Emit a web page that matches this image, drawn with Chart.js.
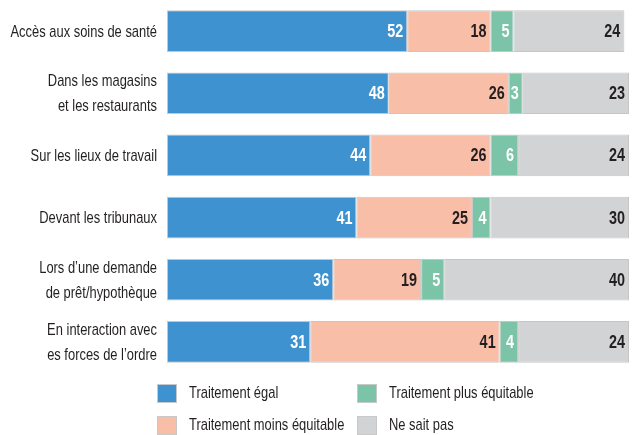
<!DOCTYPE html>
<html>
<head>
<meta charset="utf-8">
<script src="https://cdn.jsdelivr.net/npm/chart.js@4"></script>
<style>
  html, body { margin: 0; padding: 0; background: #fff; }
  #wrap { position: relative; width: 634px; height: 435px; }
  #chart { position: absolute; left: 0; top: 0; }
  .leg { position: absolute; font: 17px "Liberation Sans", Arial, sans-serif; color: #231f20; line-height: 20px; white-space: nowrap; }
  .leg span { position: absolute; left: 0; top: 0; width: 20px; height: 19px; border: 1px solid #c9c9c9; box-sizing: border-box; }
  .leg b { font-weight: normal; position: absolute; left: 32px; top: -1px; transform: scaleX(0.76); transform-origin: 0 0; }
</style>
</head>
<body>
<div id="wrap">
  <canvas id="chart" width="634" height="435"></canvas>
  <div id="legend"></div>
</div>
<script>
// Categories and values (percent)
const categories = [
  'Accès aux soins de santé',
  ['Dans les magasins', 'et les restaurants'],
  'Sur les lieux de travail',
  'Devant les tribunaux',
  ['Lors d\u2019une demande', 'de prêt/hypothèque'],
  ['En interaction avec', 'es forces de l\u2019ordre']
];
const seriesNames = ['Traitement égal', 'Traitement moins équitable', 'Traitement plus équitable', 'Ne sait pas'];
const egal = [52, 48, 44, 41, 36, 31];
const moins = [18, 26, 26, 25, 19, 41];
const plus = [5, 3, 6, 4, 5, 4];
const nsp = [24, 23, 24, 30, 40, 24];

const colors = ['#3d92cf', '#f8bea8', '#7cc4a8', '#d2d3d5'];
const labelColors = ['#ffffff', '#231f20', '#ffffff', '#231f20'];
const fontFamily = '"Liberation Sans", Arial, sans-serif';
const squeeze = 0.76; // condensed look

const values = [egal, moins, plus, nsp];

// Category labels, drawn condensed at the y scale tick positions
const categoryLabels = {
  id: 'categoryLabels',
  afterDraw(chart) {
    const ctx = chart.ctx;
    const y = chart.scales.y;
    ctx.save();
    ctx.font = '17px ' + fontFamily;
    ctx.fillStyle = '#231f20';
    ctx.textAlign = 'right';
    ctx.textBaseline = 'middle';
    ctx.scale(squeeze, 1);
    chart.data.labels.forEach((lab, i) => {
      const lines = Array.isArray(lab) ? lab : [lab];
      const cy = y.getPixelForTick(i);
      lines.forEach((line, k) => {
        const ly = cy + (k - (lines.length - 1) / 2) * 25;
        ctx.fillText(line, (y.right - 10) / squeeze, ly + 1);
      });
    });
    ctx.restore();
  }
};

// Bar value labels, right aligned inside each segment
const valueLabels = {
  id: 'valueLabels',
  afterDatasetsDraw(chart) {
    const ctx = chart.ctx;
    ctx.save();
    ctx.font = 'bold 18px ' + fontFamily;
    ctx.textAlign = 'right';
    ctx.textBaseline = 'middle';
    ctx.scale(0.8, 1);
    chart.data.datasets.forEach((ds, i) => {
      const meta = chart.getDatasetMeta(i);
      meta.data.forEach((bar, j) => {
        ctx.fillStyle = labelColors[i];
        ctx.fillText(ds.data[j], (bar.x - 4) / 0.8, bar.y + 1);
      });
    });
    ctx.restore();
  }
};

new Chart(document.getElementById('chart'), {
  type: 'bar',
  data: {
    labels: categories,
    datasets: seriesNames.map((name, i) => ({
      label: name,
      data: values[i],
      backgroundColor: colors[i],
      borderColor: '#c6c6c6',
      borderWidth: 1,
      borderSkipped: false,
      barPercentage: 0.67,
      categoryPercentage: 1
    }))
  },
  options: {
    indexAxis: 'y',
    responsive: false,
    animation: false,
    layout: { padding: { top: 0, right: 5, bottom: 62, left: 0 } },
    plugins: { legend: { display: false }, tooltip: { enabled: false } },
    scales: {
      x: { stacked: true, min: 0, max: 100, display: false },
      y: {
        stacked: true,
        grid: { display: false },
        border: { display: false },
        ticks: { display: false },
        afterFit: s => { s.width = 167; s.paddingTop = 0; s.paddingBottom = 0; }
      }
    }
  },
  plugins: [valueLabels, categoryLabels]
});

// Legend laid out in two columns like the original
const legendOrder = [0, 2, 1, 3];
const legendPos = [[157, 384], [357, 384], [157, 416], [357, 416]];
const legend = document.getElementById('legend');
legendOrder.forEach((s, k) => {
  const d = document.createElement('div');
  d.className = 'leg';
  d.style.left = legendPos[k][0] + 'px';
  d.style.top = legendPos[k][1] + 'px';
  d.innerHTML = `<span style="background:${colors[s]}"></span><b>${seriesNames[s]}</b>`;
  legend.appendChild(d);
});
</script>
</body>
</html>
